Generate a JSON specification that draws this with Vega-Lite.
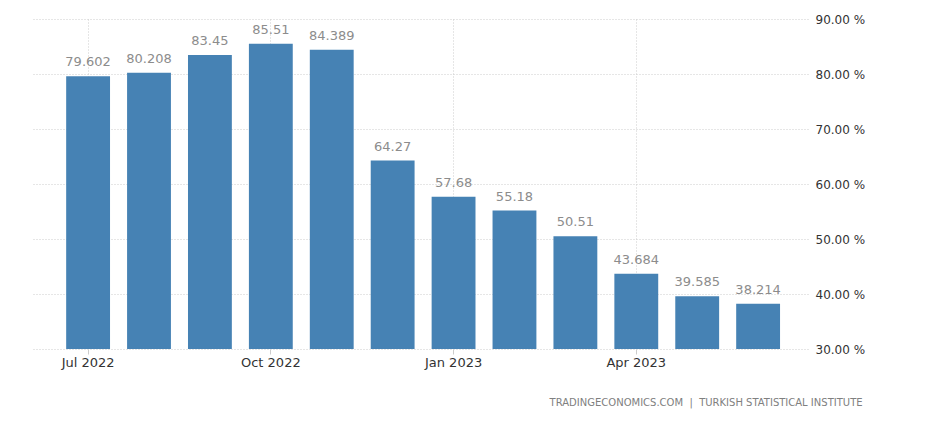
{
  "$schema": "https://vega.github.io/schema/vega-lite/v6.json",
  "width": 776,
  "height": 330,
  "autosize": {"type": "none"},
  "padding": {"left": 32, "top": 19, "right": 124, "bottom": 77},
  "background": "white",
  "config": {
    "view": {"stroke": null},
    "font": "DejaVu Sans"
  },
  "title": {
    "text": "TRADINGECONOMICS.COM\u00a0\u00a0|\u00a0\u00a0TURKISH STATISTICAL INSTITUTE",
    "orient": "bottom",
    "anchor": "end",
    "dx": -2,
    "offset": 29,
    "fontSize": 10,
    "fontWeight": "normal",
    "color": "#808080",
    "font": "DejaVu Sans"
  },
  "data": {
    "values": [
      {"month": "Jul 2022", "value": 79.602},
      {"month": "Aug 2022", "value": 80.208},
      {"month": "Sep 2022", "value": 83.45},
      {"month": "Oct 2022", "value": 85.51},
      {"month": "Nov 2022", "value": 84.389},
      {"month": "Dec 2022", "value": 64.27},
      {"month": "Jan 2023", "value": 57.68},
      {"month": "Feb 2023", "value": 55.18},
      {"month": "Mar 2023", "value": 50.51},
      {"month": "Apr 2023", "value": 43.684},
      {"month": "May 2023", "value": 39.585},
      {"month": "Jun 2023", "value": 38.214}
    ]
  },
  "encoding": {
    "x": {
      "field": "month",
      "type": "ordinal",
      "sort": null,
      "scale": {"paddingInner": 0.28, "paddingOuter": 0.51, "align": 0.55},
      "axis": {
        "title": null,
        "values": ["Jul 2022", "Oct 2022", "Jan 2023", "Apr 2023"],
        "labelAngle": 0,
        "labelFontSize": 13,
        "labelColor": "#333333",
        "labelPadding": 2,
        "tickSize": 5,
        "tickColor": "#cccccc",
        "domain": false,
        "grid": true,
        "gridColor": "#cccccc",
        "gridDash": [1, 2],
        "bandPosition": 0.5
      }
    },
    "y": {
      "field": "value",
      "type": "quantitative",
      "scale": {"domain": [30, 90], "zero": false, "nice": false},
      "axis": {
        "orient": "right",
        "title": null,
        "values": [30, 40, 50, 60, 70, 80, 90],
        "labelExpr": "format(datum.value, '.2f') + ' %'",
        "labelFontSize": 12,
        "labelColor": "#333333",
        "labelPadding": 7,
        "tickSize": 0,
        "domain": false,
        "grid": true,
        "gridColor": "#cccccc",
        "gridDash": [1, 2]
      }
    }
  },
  "layer": [
    {
      "mark": {"type": "bar", "color": "#4682b4"},
      "encoding": {"y2": {"datum": 30}}
    },
    {
      "mark": {"type": "text", "baseline": "alphabetic", "dy": -10, "fontSize": 13, "color": "#8c8c8c"},
      "encoding": {"text": {"field": "value", "type": "quantitative"}}
    }
  ]
}
